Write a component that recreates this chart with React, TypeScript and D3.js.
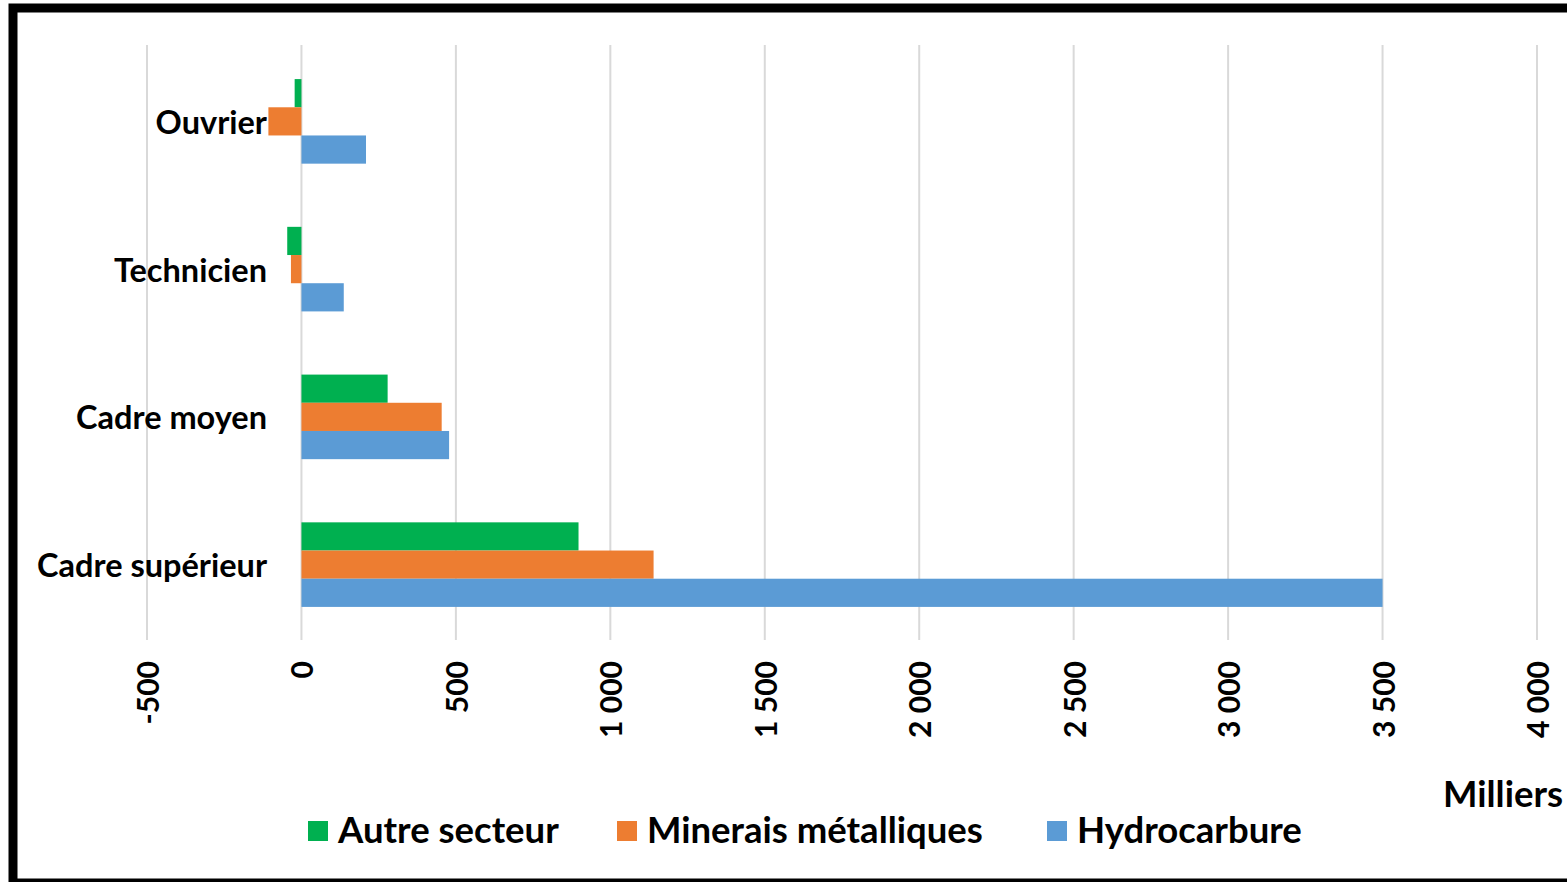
import React from "react";
import * as d3 from "d3";

const categories = ["Ouvrier", "Technicien", "Cadre moyen", "Cadre supérieur"];
const seriesNames = ["Autre secteur", "Minerais métalliques", "Hydrocarbure"];
const autreSecteur = [-22, -46, 279, 897];
const mineraisMetalliques = [-107, -34, 454, 1140];
const hydrocarbure = [209, 137, 478, 3500];
const xTicks = [-500, 0, 500, 1000, 1500, 2000, 2500, 3000, 3500, 4000];
const unitLabel = "Milliers";
const colors = ["#00B050", "#ED7D31", "#5B9BD5"];

const seriesValues = [autreSecteur, mineraisMetalliques, hydrocarbure];

const W = 1567;
const H = 882;
const FONT = "Lato, 'Noto Sans', sans-serif";

const locale = d3.formatLocale({
  decimal: ",",
  thousands: " ",
  grouping: [3],
  currency: ["", " €"],
  minus: "-",
});
const fmt = locale.format(",");

export default function App() {
  const x = d3.scaleLinear().domain([-500, 4000]).range([147, 1537]);
  const y = d3
    .scaleBand<string>()
    .domain(categories)
    .range([47.5, 638.5])
    .paddingInner(0.4276)
    .paddingOuter(0.2138);
  const ys = d3
    .scaleBand<string>()
    .domain(seriesNames)
    .range([0, y.bandwidth()])
    .padding(0);

  const legendItems = [
    { name: seriesNames[0], x: 308 },
    { name: seriesNames[1], x: 617 },
    { name: seriesNames[2], x: 1047 },
  ];

  return (
    <svg
      width={W}
      height={H}
      style={{ position: "absolute", left: 0, top: 0, background: "#fff" }}
    >
      <rect x={0} y={0} width={W} height={H} fill="#fff" />
      {/* gridlines */}
      {xTicks.map((t) => (
        <line
          key={t}
          x1={x(t)}
          x2={x(t)}
          y1={45}
          y2={640}
          stroke="#D9D9D9"
          strokeWidth={2}
        />
      ))}
      {/* bars */}
      {categories.map((c, ci) => (
        <g key={c} transform={`translate(0,${y(c)})`}>
          {seriesNames.map((s, si) => {
            const v = seriesValues[si][ci];
            const x0 = x(Math.min(0, v));
            const x1 = x(Math.max(0, v));
            return (
              <rect
                key={s}
                x={x0}
                y={ys(s)}
                width={x1 - x0}
                height={ys.bandwidth()}
                fill={colors[si]}
              />
            );
          })}
        </g>
      ))}
      {/* category labels */}
      {categories.map((c) => (
        <text
          key={c}
          x={267}
          y={(y(c) as number) + y.bandwidth() / 2}
          textAnchor="end"
          dominantBaseline="central"
          fontFamily={FONT}
          fontWeight={700}
          fontSize={32.5}
          fill="#000"
        >
          {c}
        </text>
      ))}
      {/* tick labels */}
      {xTicks.map((t) => (
        <text
          key={t}
          transform={`translate(${x(t)},661) rotate(-90)`}
          textAnchor="end"
          dominantBaseline="central"
          fontFamily={FONT}
          fontWeight={700}
          fontSize={30}
          fill="#000"
        >
          {fmt(t)}
        </text>
      ))}
      {/* unit label */}
      <text
        x={1443}
        y={807}
        fontFamily={FONT}
        fontWeight={700}
        fontSize={36.5}
        fill="#000"
      >
        {unitLabel}
      </text>
      {/* legend */}
      {legendItems.map((it, i) => (
        <g key={it.name}>
          <rect x={it.x} y={821} width={20} height={20} fill={colors[i]} />
          <text
            x={it.x + 30}
            y={843}
            fontFamily={FONT}
            fontWeight={700}
            fontSize={36.5}
            fill="#000"
          >
            {it.name}
          </text>
        </g>
      ))}
      {/* frame */}
      <rect
        x={13}
        y={8}
        width={1600}
        height={875}
        fill="none"
        stroke="#000"
        strokeWidth={9}
      />
    </svg>
  );
}
